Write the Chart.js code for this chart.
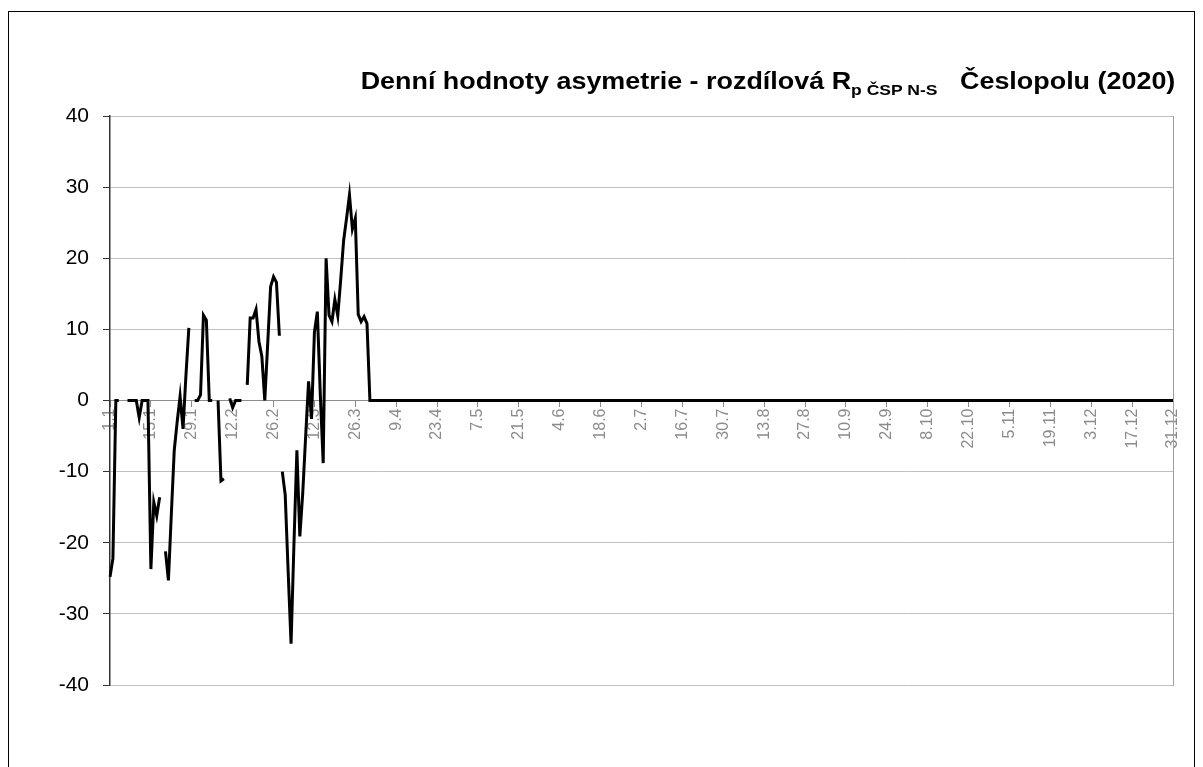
<!DOCTYPE html>
<html>
<head>
<meta charset="utf-8">
<script src="https://cdn.jsdelivr.net/npm/chart.js"></script>
<style>
  html, body { margin: 0; padding: 0; background: #fff; }
  #wrap { position: relative; width: 1203px; height: 767px; overflow: hidden; }
  #frame { position: absolute; left: 8px; top: 11px; width: 1187px; height: 800px; border: 1px solid #000; box-sizing: border-box; }
  #title { position: absolute; right: 28px; top: 68px; font-family: "Liberation Sans", Arial, sans-serif; font-weight: bold; font-size: 23px; white-space: pre; color: #000; transform: scaleX(1.17); transform-origin: right center; }
  #title sub { font-size: 15px; vertical-align: -6px; }
  canvas { position: absolute; left: 0; top: 0; }
</style>
</head>
<body>
<div id="wrap">
  <div id="frame"></div>
  <canvas id="chart" width="1203" height="767"></canvas>
  <div id="title">Denní hodnoty asymetrie - rozdílová R<sub>p ČSP N-S</sub>   Česlopolu (2020)</div>
</div>
<script>
// categories: every day of the year, labels "d.m"
const monthDays = [31, 28, 31, 30, 31, 30, 31, 31, 30, 31, 30, 31];
const days = [];
monthDays.forEach((n, m) => {
    for (let d = 1; d <= n; d++) days.push(d + "." + (m + 1));
});
const tickEvery = 14;

// daily values (null = no value), Jan 1 .. Mar 29
const firstDays = [
    -24.8, -22.2, 0, 0, null, null, 0, 0, 0, 0,
    -2.4, 0, 0, 0, -23.7, -14.3, -16.2, -13.6, null, -21.2,
    -25.3, -16, -7, -3, 0.6, -4, 3.5, 10.2, null, 0,
    0, 0.8, 12, 11.3, 0, 0, null, 0, -11.3, -11.0,
    null, 0.3, -1.0, 0, 0, 0, null, 2.2, 11.6, 11.6,
    12.8, 8.3, 6.2, 0, 8, 16, 17.4, 16.6, 9.1, -10,
    -13.3, -24, -34.2, -20, -7, -19.1, -13, -5, 2.7, -2.6,
    9.6, 12.5, 1, -8.8, 20, 12, 11.1, 14.2, 11.9, 17,
    22.5, 25.6, 28.9, 24.1, 25.6, 12.1, 11.1, 11.8, 10.8
];
// Mar 30 .. Dec 31
const restDays = [
    0,0,0,0,0,0,0,0,0,0,0,0,0,0,0,0,0,0,0,0,0,0,0,0,0,0,0,0,0,0,0,0,0,0,0,0,0,0,0,0,0,0,0,0,0,0,
    0,0,0,0,0,0,0,0,0,0,0,0,0,0,0,0,0,0,0,0,0,0,0,0,0,0,0,0,0,0,0,0,0,0,0,0,0,0,0,0,0,0,0,0,0,0,
    0,0,0,0,0,0,0,0,0,0,0,0,0,0,0,0,0,0,0,0,0,0,0,0,0,0,0,0,0,0,0,0,0,0,0,0,0,0,0,0,0,0,0,0,0,0,
    0,0,0,0,0,0,0,0,0,0,0,0,0,0,0,0,0,0,0,0,0,0,0,0,0,0,0,0,0,0,0,0,0,0,0,0,0,0,0,0,0,0,0,0,0,0,
    0,0,0,0,0,0,0,0,0,0,0,0,0,0,0,0,0,0,0,0,0,0,0,0,0,0,0,0,0,0,0,0,0,0,0,0,0,0,0,0,0,0,0,0,0,0,
    0,0,0,0,0,0,0,0,0,0,0,0,0,0,0,0,0,0,0,0,0,0,0,0,0,0,0,0,0,0,0,0,0,0,0,0,0,0,0,0,0,0,0,0,0,0
];
const values = firstDays.concat(restDays);
// segment that is not drawn in the original (break between two days)
const brokenAfter = [58];

const yMin = -40, yMax = 40, yStep = 10;
const labelFont = "'Liberation Sans', Arial, sans-serif";

new Chart(document.getElementById("chart"), {
    type: "line",
    data: {
        labels: days,
        datasets: [{
            data: values,
            borderColor: "#000",
            borderWidth: 3,
            pointRadius: 0,
            tension: 0,
            spanGaps: false,
            segment: {
                borderColor: c => brokenAfter.includes(c.p0DataIndex) ? "rgba(0,0,0,0)" : "#000"
            }
        }]
    },
    options: {
        responsive: false,
        animation: false,
        layout: { padding: { top: 116, right: 30, bottom: 82, left: 0 } },
        plugins: { legend: { display: false }, tooltip: { enabled: false } },
        scales: {
            x: {
                position: { y: 0 },
                afterBuildTicks: s => { s.ticks = s.ticks.filter(t => t.value % tickEvery === 0); },
                grid: { drawOnChartArea: false, tickLength: 6, color: "#8c8c8c" },
                border: { color: "#8c8c8c", width: 1 },
                ticks: {
                    autoSkip: false, maxRotation: 90, minRotation: 90, padding: 2,
                    color: "#8c8c8c", font: { family: labelFont, size: 16 }
                }
            },
            y: {
                min: yMin, max: yMax,
                afterFit: s => { s.width = 110; },
                grid: { color: "#c0c0c0", tickColor: "#333", tickLength: 7 },
                border: { color: "#333", width: 1.5 },
                ticks: { stepSize: yStep, padding: 14, color: "#000", font: { family: labelFont, size: 21 } }
            },
            // right edge of the plot area
            yRight: {
                position: "right", min: yMin, max: yMax,
                grid: { drawOnChartArea: false, drawTicks: false },
                border: { color: "#a0a0a0", width: 1 },
                ticks: { display: false }
            }
        }
    }
});
</script>
</body>
</html>
